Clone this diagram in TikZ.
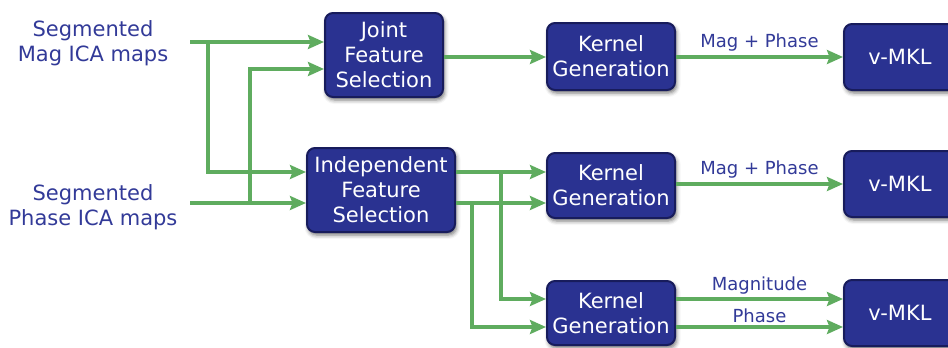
\documentclass[tikz,border=0pt]{standalone}
\usepackage{fontspec}
\setmainfont{DejaVu Sans}
\usetikzlibrary{arrows.meta,shadows.blur}
\definecolor{boxfill}{RGB}{42,50,145}
\definecolor{boxline}{RGB}{24,28,92}
\definecolor{lblue}{RGB}{50,58,152}
\definecolor{lgreen}{RGB}{95,172,95}
\tikzset{
  blk/.style={draw=boxline, line width=2pt, fill=boxfill, rounded corners=8pt,
    text=white, align=center, font=\fontsize{21}{25}\selectfont, inner sep=0pt,
    blur shadow={shadow xshift=1.5pt, shadow yshift=-3pt, shadow blur radius=4pt, shadow opacity=55}},
  inlbl/.style={text=lblue, align=center, font=\fontsize{21}{25}\selectfont},
  elbl/.style={text=lblue, font=\fontsize{18}{20}\selectfont, inner sep=0pt},
  arr/.style={draw=lgreen, line width=3.2pt, -{Stealth[length=16pt,width=14pt,inset=2.5pt]}},
}
\begin{document}
\begin{tikzpicture}[x=1pt,y=-1pt]
\useasboundingbox (0,0) rectangle (948,348);
% boxes
\node[blk, minimum width=118pt, minimum height=84pt] (joint) at (384,55) {Joint\\Feature\\Selection};
\node[blk, minimum width=148pt, minimum height=84pt] (ind) at (381,190) {Independent\\Feature\\Selection};
\node[blk, minimum width=128pt, minimum height=67pt] (k1) at (611,56.5) {Kernel\\Generation};
\node[blk, minimum width=128pt, minimum height=65pt] (k2) at (611,185.5) {Kernel\\Generation};
\node[blk, minimum width=128pt, minimum height=64pt] (k3) at (611,313) {Kernel\\Generation};
\node[blk, minimum width=112pt, minimum height=66pt] (v1) at (900,57) {v-MKL};
\node[blk, minimum width=112pt, minimum height=66pt] (v2) at (900,184) {v-MKL};
\node[blk, minimum width=112pt, minimum height=66pt] (v3) at (900,313) {v-MKL};
% inputs
\node[inlbl] (mag) at (93,43.5) {Segmented\\Mag ICA maps};
\node[inlbl] (pha) at (93,207) {Segmented\\Phase ICA maps};
\coordinate (m0) at (190,42);
\coordinate (p0) at (190,203);
\coordinate (mb) at (208,42);
\coordinate (pb) at (250,203);
\coordinate (jin2) at (325,69);
\coordinate (iin1) at (307,172);
% input arrows
\draw[arr] (m0) -- (m0 -| joint.west);
\draw[arr] (mb) |- (iin1 -| ind.west);
\draw[arr] (p0) -- (p0 -| ind.west);
\draw[arr] (pb) |- (jin2 -| joint.west);
% joint to kernel
\coordinate (jo) at (443,57);
\draw[arr] (jo -| joint.east) -- (jo -| k1.west);
\draw[arr] (jo -| k1.east) -- node[elbl, above=4pt] (l1) {Mag + Phase} (jo -| v1.west);
% independent outputs
\coordinate (o1) at (455,172);
\coordinate (o2) at (455,203);
\coordinate (b1) at (501,172);
\coordinate (b2) at (472,203);
\coordinate (k3a) at (547,299);
\coordinate (k3b) at (547,327);
\draw[arr] (o1 -| ind.east) -- (o1 -| k2.west);
\draw[arr] (o2 -| ind.east) -- (o2 -| k2.west);
\draw[arr] (b1) |- (k3a -| k3.west);
\draw[arr] (b2) |- (k3b -| k3.west);
\coordinate (k2o) at (675,184);
\draw[arr] (k2o -| k2.east) -- node[elbl, above=4pt] (l2) {Mag + Phase} (k2o -| v2.west);
\draw[arr] (k3a -| k3.east) -- node[elbl, above=3pt] (l3) {Magnitude} (k3a -| v3.west);
\draw[arr] (k3b -| k3.east) -- node[elbl, above=3pt] (l4) {Phase} (k3b -| v3.west);
\end{tikzpicture}
\end{document}
